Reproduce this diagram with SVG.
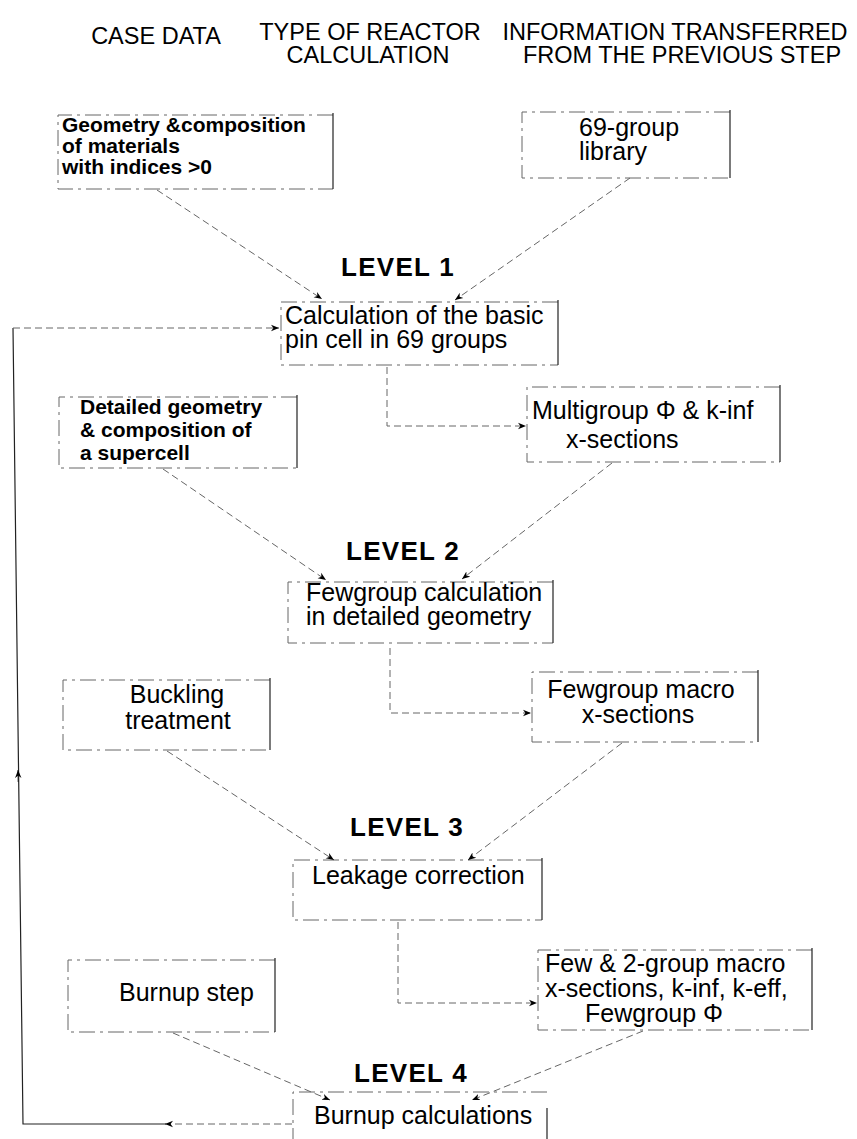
<svg xmlns="http://www.w3.org/2000/svg" width="857" height="1139" viewBox="0 0 857 1139">
<style>
.t{font-family:"Liberation Sans",Arial,sans-serif;fill:#000}
.h{font-size:23.5px}
.n{font-size:25px}
.bd{font-size:21px;font-weight:bold}
.lv{font-size:26px;font-weight:bold;letter-spacing:1.3px}
.box{fill:none;stroke:#666;stroke-width:1;stroke-dasharray:16 5 3 5}
.rs{fill:none;stroke:#222;stroke-width:1.2}
.con{fill:none;stroke:#666;stroke-width:1;stroke-dasharray:7 4}
.sol{fill:none;stroke:#222;stroke-width:1.2}
</style>
<defs>
<marker id="ah" viewBox="0 0 10 10" refX="10" refY="5" markerWidth="8" markerHeight="8" markerUnits="userSpaceOnUse" orient="auto"><path d="M0,1 L10,5 L0,9 L3,5 z" fill="#000"/></marker>
</defs>

<g id="headers">
<text class="t h" x="156" y="44" text-anchor="middle">CASE DATA</text>
<text class="t h" x="370" y="40" text-anchor="middle">TYPE OF REACTOR</text>
<text class="t h" x="368" y="63" text-anchor="middle">CALCULATION</text>
<text class="t h" x="675" y="40" text-anchor="middle">INFORMATION TRANSFERRED</text>
<text class="t h" x="682" y="63" text-anchor="middle">FROM THE PREVIOUS STEP</text>
</g>

<g id="geometry-box">
<path class="box" d="M333,115 H58 V189 H333"/><path class="rs" d="M333,113 V189"/>
<text class="t bd" x="62" y="132">Geometry &amp;composition</text>
<text class="t bd" x="62" y="153">of materials</text>
<text class="t bd" x="62" y="174">with indices &gt;0</text>
</g>

<g id="library-box">
<path class="box" d="M730,112 H522 V178 H730"/><path class="rs" d="M730,110 V178"/>
<text class="t n" x="579" y="136">69-group</text>
<text class="t n" x="579" y="160">library</text>
</g>

<g id="level1">
<text class="t lv" x="341" y="276">LEVEL  1</text>
</g>

<g id="pincell-box">
<path class="box" d="M558,302 H281 V365 H558"/><path class="rs" d="M558,300 V365"/>
<text class="t n" x="285" y="324">Calculation of the basic</text>
<text class="t n" x="285" y="348">pin cell in 69 groups</text>
</g>

<g id="detailed-box">
<path class="box" d="M297,397 H59 V468 H297"/><path class="rs" d="M297,395 V468"/>
<text class="t bd" x="80" y="414">Detailed geometry</text>
<text class="t bd" x="80" y="437">&amp; composition of</text>
<text class="t bd" x="80" y="460">a supercell</text>
</g>

<g id="multigroup-box">
<path class="box" d="M780,387 H527 V462 H780"/><path class="rs" d="M780,385 V462"/>
<text class="t n" x="532" y="419">Multigroup Φ &amp;  k-inf</text>
<text class="t n" x="566" y="448">x-sections</text>
</g>

<g id="level2">
<text class="t lv" x="346" y="560">LEVEL  2</text>
</g>

<g id="fewgroup-calc-box">
<path class="box" d="M553,582 H288 V643 H553"/><path class="rs" d="M553,580 V643"/>
<text class="t n" x="306" y="601">Fewgroup calculation</text>
<text class="t n" x="306" y="625">in detailed geometry</text>
</g>

<g id="buckling-box">
<path class="box" d="M270,680 H63 V750 H270"/><path class="rs" d="M270,678 V750"/>
<text class="t n" x="177" y="703" text-anchor="middle">Buckling</text>
<text class="t n" x="178" y="729" text-anchor="middle">treatment</text>
</g>

<g id="fewgroup-macro-box">
<path class="box" d="M758,672 H532 V742 H758"/><path class="rs" d="M758,670 V742"/>
<text class="t n" x="641" y="698" text-anchor="middle">Fewgroup macro</text>
<text class="t n" x="638" y="723" text-anchor="middle">x-sections</text>
</g>

<g id="level3">
<text class="t lv" x="350" y="836">LEVEL  3</text>
</g>

<g id="leakage-box">
<path class="box" d="M542,860 H293 V920 H542"/><path class="rs" d="M542,858 V920"/>
<text class="t n" x="312" y="884">Leakage correction</text>
</g>

<g id="burnup-step-box">
<path class="box" d="M275,960 H68 V1032 H275"/><path class="rs" d="M275,958 V1032"/>
<text class="t n" x="119" y="1001">Burnup step</text>
</g>

<g id="few2group-box">
<path class="box" d="M812,950 H538 V1030 H812"/><path class="rs" d="M812,948 V1030"/>
<text class="t n" x="545" y="972">Few &amp; 2-group macro</text>
<text class="t n" x="545" y="997">x-sections, k-inf, k-eff,</text>
<text class="t n" x="585" y="1022">Fewgroup  Φ</text>
</g>

<g id="level4">
<text class="t lv" x="354" y="1082">LEVEL  4</text>
</g>

<g id="burnup-calc-box">
<path class="box" d="M547,1092 H293 V1139"/><path class="rs" d="M547,1108 V1139"/>
<text class="t n" x="314" y="1124">Burnup calculations</text>
</g>

<g id="connectors">
<path class="con" d="M157,190 L322,299" marker-end="url(#ah)"/>
<path class="con" d="M630,178 L455,300" marker-end="url(#ah)"/>
<path class="con" d="M387,367 V426 H526" marker-end="url(#ah)"/>
<path class="con" d="M163,469 L326,580" marker-end="url(#ah)"/>
<path class="con" d="M612,463 L462,579" marker-end="url(#ah)"/>
<path class="con" d="M390,648 V713 H531" marker-end="url(#ah)"/>
<path class="con" d="M167,751 L334,860" marker-end="url(#ah)"/>
<path class="con" d="M622,743 L468,860" marker-end="url(#ah)"/>
<path class="con" d="M398,922 V1003 H537" marker-end="url(#ah)"/>
<path class="con" d="M173,1033 L330,1100" marker-end="url(#ah)"/>
<path class="con" d="M643,1031 L472,1100" marker-end="url(#ah)"/>
<path class="con" d="M292,1124 H165" marker-end="url(#ah)"/>
<path class="sol" d="M166,1124 H23 L13,328"/>
<path class="sol" d="M18.3,782 L18.1,770" marker-end="url(#ah)"/>
<path class="con" d="M13,328 H279" marker-end="url(#ah)"/>
</g>
</svg>
